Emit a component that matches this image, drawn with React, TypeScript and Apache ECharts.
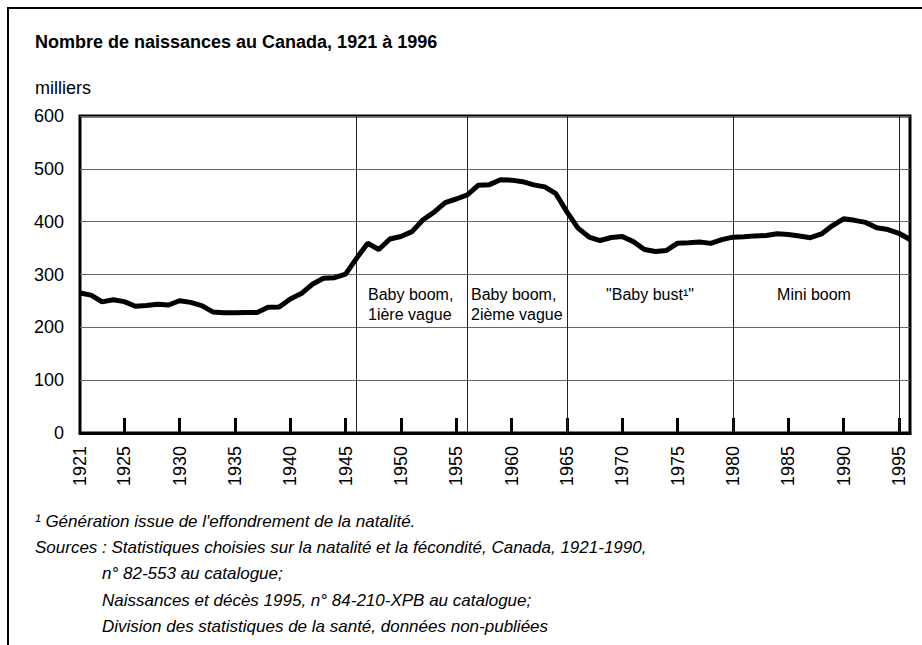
import React, { useEffect, useRef } from "react";
import * as echarts from "echarts";

const years: string[] = Array.from({ length: 76 }, (_, i) => String(1921 + i));

const births: number[] = [
  264.9, 260.9, 248.1, 252.2, 248.6, 240.0, 241.4, 243.5, 242.2, 250.3,
  247.2, 241.2, 229.1, 227.4, 227.7, 227.9, 228.0, 237.9, 238.5, 253.8,
  263.9, 281.6, 293.0, 294.0, 300.6, 331.0, 359.1, 347.3, 367.1, 372.0,
  381.1, 403.6, 418.0, 436.2, 442.9, 450.7, 469.1, 470.1, 479.3, 478.6,
  475.7, 469.7, 465.8, 452.9, 418.6, 387.7, 370.9, 364.3, 370.0, 371.9,
  362.2, 347.3, 343.4, 345.6, 359.3, 360.0, 361.4, 358.9, 366.1, 370.7,
  371.3, 373.1, 373.7, 377.0, 375.7, 372.9, 369.7, 376.8, 392.7, 405.5,
  402.5, 398.6, 388.4, 385.1, 378.0, 366.2,
];

const periodLines: string[] = ["1946", "1956", "1965", "1980", "1995"];

const title = "Nombre de naissances au Canada, 1921 à 1996";
const unitLabel = "milliers";
const footnotes: string[] = [
  "¹ Génération issue de l'effondrement de la natalité.",
  "Sources : Statistiques choisies sur la natalité et la fécondité, Canada, 1921-1990,",
  "n° 82-553 au catalogue;",
  "Naissances et décès 1995, n° 84-210-XPB au catalogue;",
  "Division des statistiques de la santé, données non-publiées",
];

const FONT = '"Liberation Sans", Arial, sans-serif';

export default function App() {
  const ref = useRef<HTMLDivElement>(null);
  useEffect(() => {
    if (!ref.current) return;
    const chart = echarts.init(ref.current, null, { renderer: "svg" });
    const txt = (text: string, x: number, y: number, extra: any = {}) => ({
      type: "text",
      x,
      y,
      style: {
        text,
        fill: "#000",
        font: `16px ${FONT}`,
        textVerticalAlign: "middle",
        ...extra,
      },
    });
    chart.setOption({
      animation: false,
      backgroundColor: "#fff",
      grid: {
        left: 80,
        right: 12,
        top: 116,
        bottom: 212,
        show: true,
        borderColor: "#000",
        borderWidth: 3,
        containLabel: false,
      },
      xAxis: {
        type: "category",
        data: years,
        boundaryGap: false,
        axisLine: { show: true, lineStyle: { color: "#000", width: 3 } },
        axisTick: {
          show: true,
          inside: true,
          length: 15,
          interval: (i: number, v: string) => Number(v) % 5 === 0,
          lineStyle: { color: "#000", width: 3 },
        },
        axisLabel: {
          rotate: 90,
          fontSize: 18,
          color: "#000",
          fontFamily: FONT,
          margin: 13,
          interval: (i: number, v: string) => v === "1921" || Number(v) % 5 === 0,
        },
        splitLine: { show: false },
      },
      yAxis: {
        type: "value",
        min: 0,
        max: 600,
        interval: 100,
        axisLine: { show: false },
        axisTick: { show: false },
        axisLabel: { fontSize: 18, color: "#000", fontFamily: FONT, margin: 16 },
        splitLine: { lineStyle: { color: "#666", width: 1 } },
      },
      series: [
        {
          type: "line",
          data: births,
          symbol: "none",
          lineStyle: { color: "#000", width: 5 },
          z: 5,
          markLine: {
            silent: true,
            symbol: ["none", "none"],
            label: { show: false },
            lineStyle: { color: "#222", width: 1, type: "solid" },
            data: periodLines.map((y) => ({ xAxis: y })),
          },
        },
      ],
      graphic: [
        {
          type: "rect",
          shape: { x: 8, y: 8, width: 930, height: 700 },
          style: { fill: "none", stroke: "#000", lineWidth: 2 },
          silent: true,
        },
        txt(title, 35, 42, { font: `bold 18px ${FONT}` }),
        txt(unitLabel, 35, 88, { font: `18px ${FONT}` }),
        txt("Baby boom,", 368, 294, { font: `16px ${FONT}` }),
        txt("1ière vague", 368, 314, { font: `16px ${FONT}` }),
        txt("Baby boom,", 471, 294, { font: `16px ${FONT}` }),
        txt("2ième vague", 471, 314, { font: `16px ${FONT}` }),
        txt('"Baby bust¹"', 650, 294, { font: `16px ${FONT}`, textAlign: "center" }),
        txt("Mini boom", 814, 294, { font: `16px ${FONT}`, textAlign: "center" }),
        txt(footnotes[0], 35, 521, { font: `italic 17px ${FONT}` }),
        txt(footnotes[1], 35, 547, { font: `italic 17px ${FONT}` }),
        txt(footnotes[2], 102, 573, { font: `italic 17px ${FONT}` }),
        txt(footnotes[3], 102, 600, { font: `italic 17px ${FONT}` }),
        txt(footnotes[4], 102, 626, { font: `italic 17px ${FONT}` }),
      ],
    });
    return () => chart.dispose();
  }, []);
  return (
    <div
      ref={ref}
      style={{ position: "absolute", left: 0, top: 0, width: 922, height: 645 }}
    />
  );
}
